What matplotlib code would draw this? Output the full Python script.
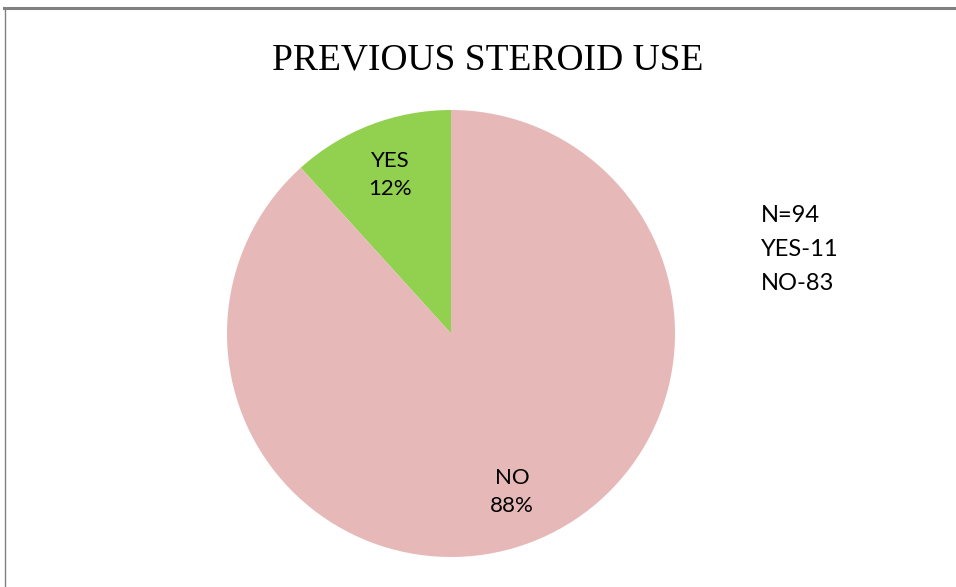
import matplotlib
matplotlib.use("Agg")
import matplotlib.pyplot as plt
from matplotlib.lines import Line2D

title = "PREVIOUS STEROID USE"
categories = ["YES", "NO"]
counts = [11, 83]
colors = ["#92D050", "#E6B9B8"]
note_lines = ["N=94", "YES-11", "NO-83"]

W, H = 956, 587
fig = plt.figure(figsize=(W / 100, H / 100), dpi=100)
fig.patch.set_facecolor("white")

# frame lines (top and left)
fig.add_artist(Line2D([4 / W, 1], [1 - 8 / H, 1 - 8 / H], color="#808080", lw=2.2, transform=fig.transFigure))
fig.add_artist(Line2D([4.5 / W, 4.5 / W], [0, 1 - 8 / H], color="#808080", lw=1.0, transform=fig.transFigure))

ax = fig.add_axes([227 / W, (H - 557) / H, 448 / W, 447 / H])
it = iter(categories)

def fmt(p):
    return f"{next(it)}\n{p:.0f}%"

wedges, texts = ax.pie(counts, colors=colors, startangle=90, counterclock=True,
                       autopct=fmt, pctdistance=0.76,
                       textprops=dict(fontsize=16, family="Lato", color="black",
                                      linespacing=1.45),
                       wedgeprops=dict(linewidth=0))[:2]
ax.set_xlim(-1, 1)
ax.set_ylim(-1, 1)
ax.set_aspect("auto")
ax.axis("off")

fig.text(488 / W, 1 - 60 / H, title, ha="center", va="center",
         fontsize=27, family="Liberation Serif")

for i, line in enumerate(note_lines):
    fig.text(761 / W, 1 - (215 + 34 * i) / H, line, ha="left", va="center",
             fontsize=17, family="Lato")

fig.savefig("out.png", dpi=100, facecolor="white")
